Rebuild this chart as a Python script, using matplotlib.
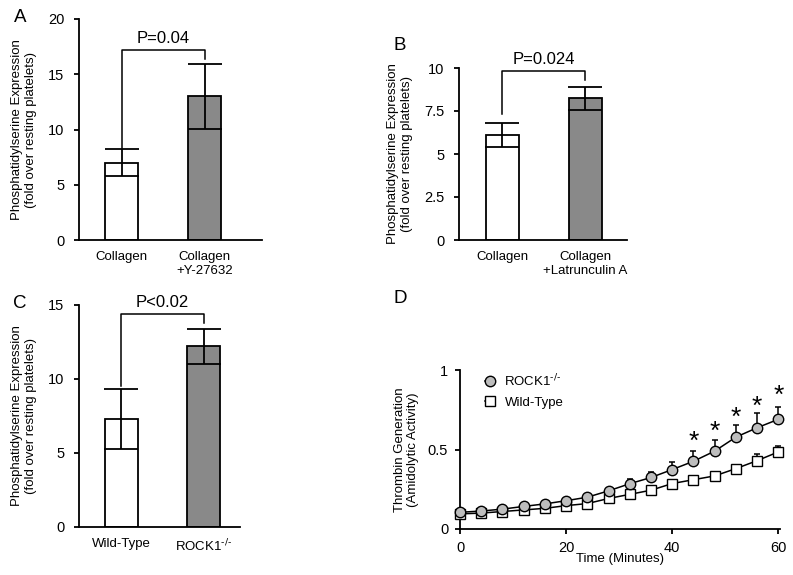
import numpy as np
import matplotlib.pyplot as plt

plt.rcParams.update({
    'font.family': ['Liberation Sans', 'DejaVu Sans'],
    'font.size': 9.5,
    'axes.linewidth': 1.3,
    'xtick.major.width': 1.3,
    'ytick.major.width': 1.3,
    'xtick.major.size': 3.5,
    'ytick.major.size': 3.5,
})

ROCK = r'ROCK1$^{\text{-/-}}$'

# Panel A
a_labels = ['Collagen', 'Collagen\n+Y-27632']
a_means = [7.0, 13.0]
a_errs = [1.2, 2.95]
# Panel B
b_labels = ['Collagen', 'Collagen\n+Latrunculin A']
b_means = [6.1, 8.25]
b_errs = [0.7, 0.67]
# Panel C
c_labels = ['Wild-Type', ROCK]
c_means = [7.3, 12.2]
c_errs = [2.05, 1.2]

# Panel D
t = [0, 4, 8, 12, 16, 20, 24, 28, 32, 36, 40, 44, 48, 52, 56, 60]
rock = [0.105, 0.113, 0.125, 0.142, 0.158, 0.178, 0.200, 0.240, 0.285, 0.324,
        0.374, 0.426, 0.490, 0.578, 0.637, 0.690]
rock_err = [0.008, 0.008, 0.008, 0.008, 0.01, 0.01, 0.015, 0.02, 0.03, 0.035,
            0.045, 0.065, 0.07, 0.075, 0.09, 0.08]
wt = [0.095, 0.100, 0.110, 0.120, 0.130, 0.147, 0.160, 0.192, 0.218, 0.244,
      0.286, 0.310, 0.334, 0.380, 0.430, 0.485]
wt_err = [0.005, 0.005, 0.005, 0.005, 0.005, 0.005, 0.008, 0.008, 0.008, 0.008,
          0.01, 0.01, 0.01, 0.012, 0.04, 0.035]
star_t = [44, 48, 52, 56, 60]
star_y = [0.545, 0.61, 0.70, 0.77, 0.835]

W, H = 793, 575
fig = plt.figure(figsize=(W / 100, H / 100), dpi=100)


def px_axes(l, r, b, t_):
    return fig.add_axes([l / W, 1 - b / H, (r - l) / W, (b - t_) / H])


def bar_panel(ax, labels, means, errs, ylim, yticks, xlim, bracket, ptext):
    x = np.arange(len(means))
    ax.bar(x, means, width=0.4, color=['white', '#898989'], edgecolor='black',
           linewidth=1.3, zorder=2)
    ax.errorbar(x, means, yerr=errs, fmt='none', ecolor='black', elinewidth=1.3,
                capsize=12, capthick=1.3, zorder=3)
    ax.set_xlim(*xlim)
    ax.set_ylim(*ylim)
    ax.set_yticks(yticks)
    ax.set_yticklabels([('%g' % v) for v in yticks], fontsize=10.5)
    ax.set_xticks(x)
    ax.set_xticklabels(labels)
    ax.tick_params(axis='x', length=0, pad=8)
    ax.tick_params(axis='y', direction='out', pad=7)
    for s in ['top', 'right']:
        ax.spines[s].set_visible(False)
    ax.set_ylabel('Phosphatidylserine Expression\n(fold over resting platelets)',
                  labelpad=8)
    yl, ytop, yr = bracket
    ax.plot([0, 0, 1, 1], [yl, ytop, ytop, yr], color='black', lw=1.1,
            clip_on=False)
    ax.text(0.5, ytop + (ylim[1] - ylim[0]) * 0.02, ptext, ha='center',
            va='bottom', fontsize=12, clip_on=False)
    return ax


axA = px_axes(79, 262, 240, 19)
bar_panel(axA, a_labels, a_means, a_errs, (0, 20), [0, 5, 10, 15, 20],
          (-0.512, 1.69), (8.3, 17.2, 16.4), 'P=0.04')
axB = px_axes(459, 627, 240, 68)
bar_panel(axB, b_labels, b_means, b_errs, (0, 10), [0, 2.5, 5, 7.5, 10],
          (-0.524, 1.5), (7.3, 9.85, 9.3), 'P=0.024')
axC = px_axes(79, 240, 527, 305)
bar_panel(axC, c_labels, c_means, c_errs, (0, 15), [0, 5, 10, 15],
          (-0.509, 1.44), (9.5, 14.37, 13.76), 'P<0.02')

# Panel D
axD = px_axes(460, 780, 529, 370)
axD.errorbar(t, rock, yerr=[np.zeros(len(rock)), rock_err], fmt='none',
             ecolor='black', elinewidth=1.1, capsize=2.5, capthick=1.1, zorder=2)
axD.errorbar(t, wt, yerr=[np.zeros(len(wt)), wt_err], fmt='none',
             ecolor='black', elinewidth=1.1, capsize=2.5, capthick=1.1, zorder=2)
axD.plot(t, wt, color='black', lw=1.1, marker='s', ms=6.5, mfc='white',
         mec='black', mew=1.0, zorder=3, label='Wild-Type', clip_on=False)
axD.plot(t, rock, color='black', lw=1.1, marker='o', ms=7.5, mfc='#bdbdbd',
         mec='black', mew=1.0, zorder=4, label=ROCK, clip_on=False)
for xs, ys in zip(star_t, star_y):
    axD.text(xs, ys, '*', ha='center', va='center', fontsize=19)
axD.set_xlim(0, 60.3)
axD.set_ylim(0, 1)
axD.set_xticks([0, 20, 40, 60])
axD.set_yticks([0, 0.5, 1])
axD.set_yticklabels(['0', '0.5', '1'])
axD.tick_params(direction='out', pad=5, labelsize=10.5)
for s in ['top', 'right']:
    axD.spines[s].set_visible(False)
axD.set_xlabel('Time (Minutes)', labelpad=-1)
axD.set_ylabel('Thrombin Generation\n(Amidolytic Activity)', labelpad=6)
h, l = axD.get_legend_handles_labels()
axD.legend(h[::-1], l[::-1], loc='upper left', bbox_to_anchor=(0.04, 1.06),
           frameon=False, handlelength=0.8, handletextpad=0.7, labelspacing=0.6,
           fontsize=9.5)

# panel letters
for letter, (px, py) in zip('ABCD', [(20, 18), (400, 46), (20, 303), (400, 298)]):
    fig.text(px / W, 1 - py / H, letter, fontsize=13.5, ha='center', va='center')

fig.savefig('out.png', dpi=100)
